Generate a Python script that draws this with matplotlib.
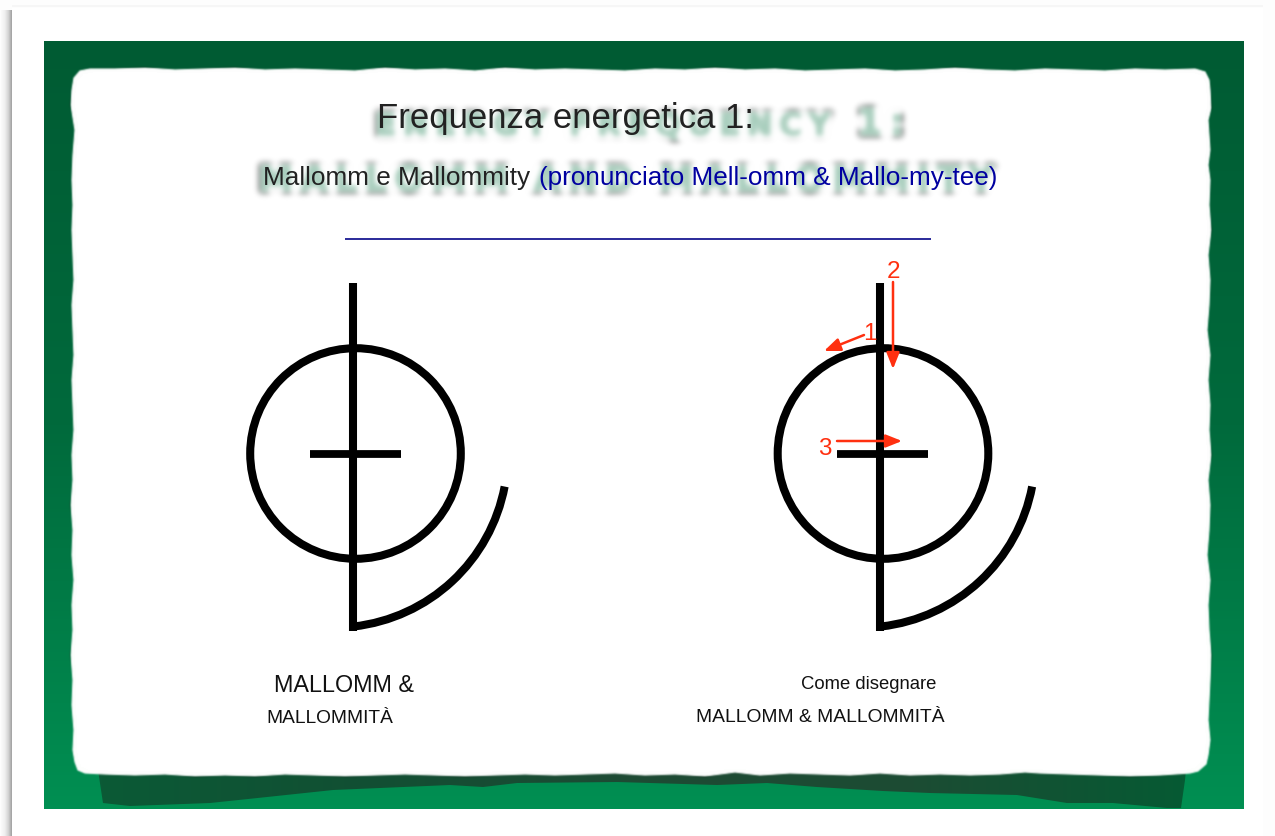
import numpy as np
import matplotlib
matplotlib.use("Agg")
import matplotlib.pyplot as plt
import matplotlib.patheffects as pe
from matplotlib.colors import LinearSegmentedColormap
from matplotlib.patches import Arc, Circle, Polygon, Rectangle

title = "Frequenza energetica 1:"
subtitle_dark = "Mallomm e Mallommity"
subtitle_blue = "(pronunciato Mell-omm & Mallo-my-tee)"
ghost_top = "E\u2009N\u2009E\u2009R\u2009G\u2009Y  F\u2009R\u2009E\u2009Q\u2009U\u2009E\u2009N\u2009C\u2009Y"
ghost_one = "1\u2009:"
ghost_sub = "M\u2009A\u2009L\u2009L\u2009O\u2009M\u2009M  A\u2009N\u2009D  M\u2009A\u2009L\u2009L\u2009O\u2009M\u2009M\u2009I\u2009T\u2009Y"
left_caption = ["MALLOMM &", "MALLOMMITÀ"]
right_caption = ["Come disegnare", "MALLOMM & MALLOMMITÀ"]
stroke_numbers = ["1", "2", "3"]

# torn edge of the white sheet in pixels
top_x = [74, 80, 90, 115, 145, 175, 205, 235, 265, 295, 325, 355, 385, 415, 445, 475, 505, 535, 565, 595, 625, 655, 685, 715,
         745, 775, 805, 835, 865, 895, 925, 955, 985, 1015, 1045, 1075, 1105, 1135, 1165, 1195, 1205]
top_y = [78, 71, 69, 69, 68, 70, 69, 68, 70, 69, 70, 71, 68, 70, 69, 71, 68, 70, 69, 70, 71, 69, 70, 68,
         70, 69, 71, 70, 69, 71, 70, 68, 70, 71, 69, 70, 71, 69, 70, 69, 72]
right_y = [80, 90, 108, 120, 135, 150, 165, 180, 205, 230, 255, 280, 305, 330, 355, 380, 405, 430, 455, 480, 505, 530, 555,
           580, 605, 630, 655, 680, 700, 720, 740, 755, 764]
right_x = [1209, 1210, 1211, 1208, 1209, 1210, 1208, 1210, 1209, 1211, 1208, 1210, 1209, 1207, 1210, 1208, 1210, 1209, 1211, 1208,
           1210, 1209, 1207, 1210, 1208, 1209, 1211, 1210, 1209, 1208, 1210, 1208, 1206]
bottom_x = [1198, 1190, 1160, 1130, 1100, 1070, 1040, 1025, 1000, 970, 940, 910, 880, 850, 820, 790, 760, 735, 705, 675, 645, 615,
            585, 555, 525, 495, 465, 435, 405, 375, 345, 315, 285, 255, 225, 195, 165, 135, 105, 85, 78]
bottom_y = [771, 773, 775, 776, 775, 774, 773, 772, 774, 775, 774, 775, 773, 775, 774, 773, 775, 772, 776, 774, 775, 773,
            774, 775, 774, 775, 776, 775, 774, 775, 776, 775, 774, 776, 775, 776, 774, 775, 774, 773, 770]
left_y = [762, 750, 730, 705, 680, 655, 630, 605, 580, 555, 530, 505, 480, 455, 430, 405, 380, 355, 330, 305, 280, 255, 230, 205, 180, 155, 130, 105, 90]
left_x = [75, 73, 74, 72, 73, 71, 73, 72, 74, 72, 73, 71, 73, 72, 74, 73, 72, 74, 73, 72, 74, 73, 72, 73, 72, 73, 75, 71, 72]

# dark band under the sheet
shadow_x = [98, 1186, 1185, 1181, 1167, 1113, 1067, 1017, 930, 883, 850, 817, 767, 717, 617, 517, 483, 450, 333, 267, 210, 130, 103]
shadow_y = [770, 770, 780, 808, 808, 803, 803, 795, 793, 791, 789, 787, 783, 785, 782, 783, 787, 785, 790, 797, 803, 806, 803]

# glyph geometry of the right hand symbol, in pixels
circle_xy = (883, 453.5)
circle_r = 105.3
stem_x = [880, 880]
stem_y = [283, 631]
bar_x = [837, 928]
bar_y = [454, 454]
arc_xy = (861.6, 454)
arc_r = 173.6
arc_angles = (10.8, 83.5)
left_shift = -527.5

arrow_tails = [(864, 335), (893, 282), (837, 441)]
arrow_tips = [(824, 351), (893, 369), (902, 441)]
number_xy = [(870, 334), (893, 272), (825, 449)]

W, H = 1275, 836
INK = "#222222"
RED = "#ff3010"


def blur(sigma):
    # gaussian blur for set_agg_filter
    rad = int(3 * sigma) + 1
    off = np.arange(-rad, rad + 1)
    kernel = np.exp(-0.5 * (off / sigma) ** 2)
    kernel /= kernel.sum()

    def process(image, dpi):
        out = np.pad(image, ((rad, rad), (rad, rad), (0, 0)))
        for axis in (0, 1):
            out = sum(k * np.roll(out, o, axis=axis) for k, o in zip(kernel, off))
        return out, -rad, -rad
    return process


fig = plt.figure(figsize=(W / 100, H / 100), dpi=100)
ax = fig.add_axes([0, 0, 1, 1])
ax.axis("off")
fig.patch.set_facecolor("#fdfdfd")

# page shadow on the left and the top
grey = LinearSegmentedColormap.from_list("g", ["#fbfbfb", "#f0f0f0", "#d5d5d5", "#a0a0a0"])
ax.imshow(np.linspace(0, 1, 64).reshape(1, -1), cmap=grey, extent=(1, 12, H, 10), aspect="auto", zorder=1)
ax.add_patch(Rectangle((12, 8), 1251, H, fc="white", ec="none", zorder=1))
ax.add_patch(Rectangle((12, 5), 1251, 2, fc="#f6f6f6", ec="none", zorder=1))

# green ground
green = LinearSegmentedColormap.from_list("gr", ["#005b33", "#006a3c", "#008f52"])
ax.imshow(np.linspace(0, 1, 256).reshape(-1, 1), cmap=green, extent=(44, 1244, 809, 41), aspect="auto", zorder=2)

band = LinearSegmentedColormap.from_list("b", ["#0b5a36", "#124f33", "#1e4a33", "#1c4c33", "#065a34"])
band_img = ax.imshow(np.linspace(0, 1, 256).reshape(1, -1), cmap=band, extent=(98, 1186, 810, 770), aspect="auto", zorder=3)
band_shape = Polygon(list(zip(shadow_x, shadow_y)), closed=True, transform=ax.transData, fc="none", ec="none")
band_img.set_clip_path(band_shape)

sheet_x = top_x + right_x + bottom_x + left_x
sheet_y = top_y + right_y + bottom_y + left_y
sheet = Polygon(list(zip(sheet_x, sheet_y)), closed=True, fc="white", ec="white", lw=0.8, joinstyle="round", zorder=4)
sheet.set_agg_filter(blur(0.8))
ax.add_patch(sheet)

ax.set_xlim(0, W)
ax.set_ylim(H, 0)


def ghost(x, y, s, size, ha="center"):
    t = ax.text(x, y, s, fontsize=size, family="DejaVu Sans", fontweight="bold", color="#a3cbb9", alpha=0.9,
                ha=ha, va="baseline", zorder=5, path_effects=[pe.withStroke(linewidth=3, foreground="#a3cbb9", alpha=0.7)])
    t.set_agg_filter(blur(3.0))


ghost(375, 135, ghost_top, 22.5, ha="left")
ghost(905, 135, ghost_one, 27, ha="right")
ghost(258, 191, ghost_sub, 25.5, ha="left")

plt.rcParams["font.family"] = ["Liberation Sans", "DejaVu Sans"]

ax.text(377, 128, title, fontsize=25, color=INK, ha="left", va="baseline", zorder=6)
ax.text(263, 185, subtitle_dark, fontsize=18.8, color=INK, ha="left", va="baseline", zorder=6)
ax.text(539, 185, subtitle_blue, fontsize=18.8, color="#0000a0", ha="left", va="baseline", zorder=6)
ax.plot([345, 931], [239, 239], color="#2a2a9a", lw=1.4, solid_capstyle="butt", zorder=6)


def draw_symbol(dx):
    ax.add_patch(Circle((circle_xy[0] + dx, circle_xy[1]), circle_r, fc="none", ec="black", lw=5.8, zorder=6))
    ax.plot([v + dx for v in stem_x], stem_y, color="black", lw=5.8, solid_capstyle="butt", zorder=6)
    ax.plot([v + dx for v in bar_x], bar_y, color="black", lw=5.6, solid_capstyle="butt", zorder=6)
    ax.add_patch(Arc((arc_xy[0] + dx, arc_xy[1]), 2 * arc_r, 2 * arc_r, theta1=arc_angles[0], theta2=arc_angles[1],
                     color="black", lw=5.8, zorder=6))


draw_symbol(left_shift)
draw_symbol(0)

for tail, tip, num, xy in zip(arrow_tails, arrow_tips, stroke_numbers, number_xy):
    ax.annotate("", xy=tip, xytext=tail, zorder=7,
                arrowprops=dict(arrowstyle="-|>,head_length=0.75,head_width=0.3", color=RED, lw=1.8,
                                mutation_scale=13, shrinkA=0, shrinkB=0))
    ax.text(xy[0], xy[1], num, fontsize=17.5, color=RED, ha="center", va="center", zorder=7)

ax.text(274, 692, left_caption[0], fontsize=16.8, color="#111111", ha="left", va="baseline", zorder=6)
ax.text(266, 723, left_caption[1], fontsize=13.8, color="#111111", ha="left", va="baseline", zorder=6)
ax.text(801, 689, right_caption[0], fontsize=13.3, color="#111111", ha="left", va="baseline", zorder=6)
ax.text(696, 722, right_caption[1], fontsize=13.85, color="#111111", ha="left", va="baseline", zorder=6)

fig.savefig("out.png", dpi=100, facecolor=fig.get_facecolor())
